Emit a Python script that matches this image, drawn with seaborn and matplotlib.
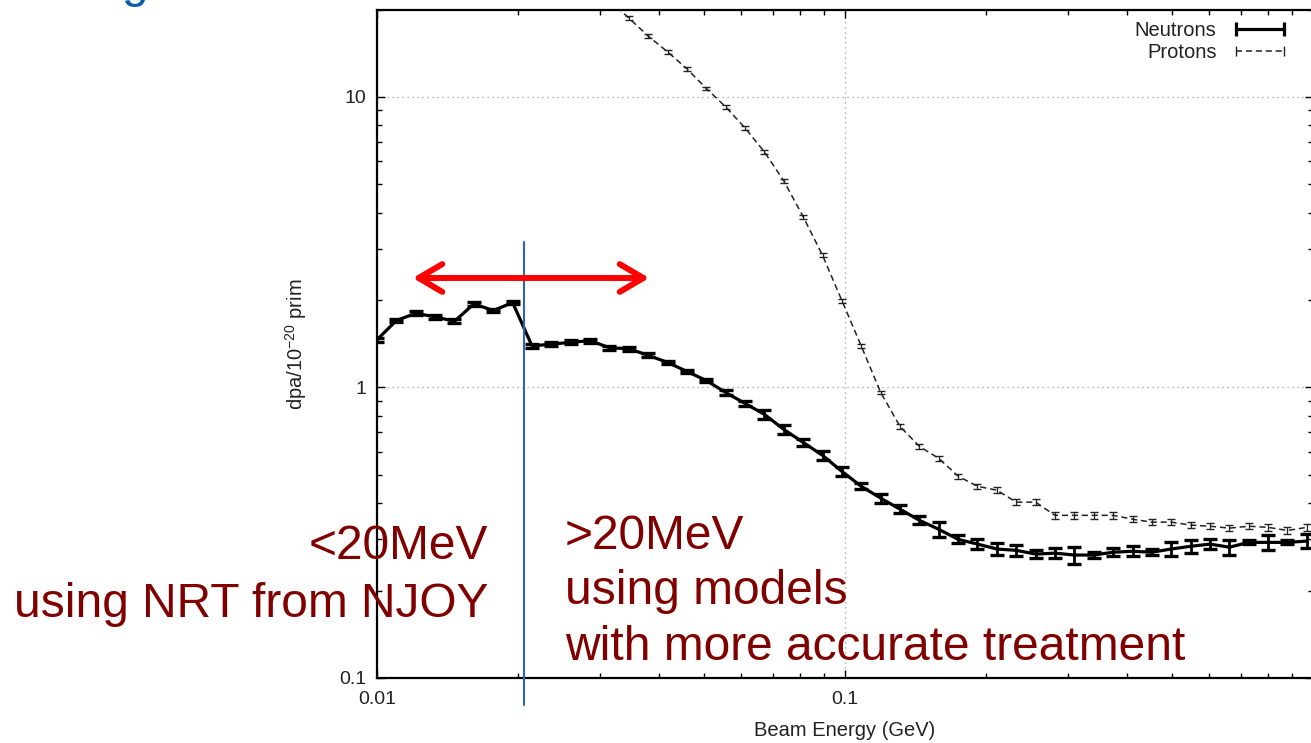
import numpy as np
import pandas as pd
import matplotlib
matplotlib.use("Agg")
import matplotlib.pyplot as plt
import seaborn as sns
from matplotlib.lines import Line2D
from matplotlib.patches import FancyArrowPatch, ArrowStyle
from matplotlib.ticker import FixedLocator, FixedFormatter, LogLocator, NullFormatter

# ---------------- data ----------------
energy_gev = [0.01, 0.011, 0.0121, 0.01331, 0.01464, 0.01611, 0.01772, 0.01949,
              0.02144, 0.02358, 0.02594, 0.02853, 0.03138, 0.03452, 0.03797, 0.04177,
              0.04595, 0.05054, 0.0556, 0.06116, 0.06727, 0.074, 0.0814, 0.08954,
              0.0985, 0.1083, 0.1192, 0.1311, 0.1442, 0.1586, 0.1745, 0.1919,
              0.2111, 0.2323, 0.2555, 0.281, 0.3091, 0.34, 0.374, 0.4115,
              0.4526, 0.4979, 0.5477, 0.6024, 0.6627, 0.729, 0.8019, 0.882, 0.9703]

neutron_dpa = [1.46, 1.70, 1.80, 1.75, 1.69, 1.94, 1.84, 1.96,
               1.39, 1.41, 1.43, 1.45, 1.37, 1.36, 1.29, 1.22,
               1.135, 1.057, 0.961, 0.881, 0.808, 0.717, 0.647, 0.584,
               0.514, 0.457, 0.416, 0.381, 0.349, 0.325, 0.300, 0.289,
               0.278, 0.275, 0.267, 0.269, 0.265, 0.265, 0.271, 0.273,
               0.271, 0.278, 0.284, 0.289, 0.282, 0.293, 0.293, 0.293, 0.296]

neutron_err_pct = [1.5, 1.5, 1.5, 1.5, 1.5, 1.5, 1.5, 1.5,
                   1.5, 1.5, 1.5, 1.5, 1.5, 1.5, 1.5, 1.5,
                   1.5, 1.5, 2.0, 2.0, 3.5, 3.5, 2.5, 3.5,
                   3.5, 2.5, 3.5, 3.0, 3.2, 5.7, 3.2, 4.0,
                   4.9, 4.0, 3.2, 4.0, 6.5, 2.4, 3.2, 4.0,
                   2.4, 5.7, 4.9, 4.0, 5.7, 1.6, 5.7, 1.6, 5.7]

proton_energy_gev = energy_gev[12:]
proton_dpa = [21.5, 18.7, 16.2, 14.3, 12.5, 10.7, 9.24, 7.82,
              6.47, 5.14, 3.87, 2.85, 1.99, 1.39, 0.961, 0.734,
              0.627, 0.570, 0.495, 0.457, 0.443, 0.403, 0.403, 0.363,
              0.363, 0.363, 0.363, 0.352, 0.344, 0.344, 0.336, 0.333,
              0.328, 0.333, 0.330, 0.322, 0.330]
proton_err_pct = [1.5, 1.5, 1.5, 1.5, 1.5, 1.5, 1.5, 1.5,
                  1.5, 1.5, 1.5, 1.5, 1.5, 1.5, 1.5, 2.0,
                  2.0, 2.0, 2.0, 2.0, 2.5, 2.5, 2.5, 2.5,
                  2.5, 2.5, 2.5, 2.5, 2.5, 2.5, 2.5, 2.5,
                  2.5, 2.5, 2.5, 2.5, 2.5]

x_ticks = [0.01, 0.1, 1.0]
x_tick_labels = ["0.01", "0.1", ""]
y_ticks = [0.1, 1, 10]
y_tick_labels = ["0.1", "1", "10"]

series_labels = ["Neutrons", "Protons"]
x_label = "Beam Energy (GeV)"
y_label = r"dpa/10$^{-20}$ prim"

left_notes = ["<20MeV", "using NRT from NJOY"]
right_notes = [">20MeV", "using models", "with more accurate treatment"]

# ---------------- styling ----------------
sns.set_style("ticks")
plt.rcParams["font.family"] = ["Liberation Sans", "DejaVu Sans"]
plt.rcParams["mathtext.fontset"] = "custom"
plt.rcParams["mathtext.rm"] = "Liberation Sans"
plt.rcParams["mathtext.it"] = "Liberation Sans:italic"
plt.rcParams["mathtext.bf"] = "Liberation Sans:bold"

W, H = 1311, 743
fig = plt.figure(figsize=(W / 100, H / 100), dpi=100)
fig.patch.set_facecolor("white")

ax_l, ax_r, ax_t, ax_b = 377, 1313, 9.5, 678
ax = fig.add_axes([ax_l / W, 1 - ax_b / H, (ax_r - ax_l) / W, (ax_b - ax_t) / H])
ax.set_facecolor("white")

df_n = pd.DataFrame({"E": energy_gev, "dpa": neutron_dpa})
df_p = pd.DataFrame({"E": proton_energy_gev, "dpa": proton_dpa})

ax.set_xscale("log")
ax.set_yscale("log")

n_err = np.array(neutron_dpa) * np.array(neutron_err_pct) / 100
p_err = np.array(proton_dpa) * np.array(proton_err_pct) / 100

sns.lineplot(data=df_p, x="E", y="dpa", ax=ax, color="#222222", lw=1.1,
             linestyle=(0, (4, 2.5)), legend=False, zorder=3)
ax.errorbar(proton_energy_gev, proton_dpa, yerr=p_err, fmt="none",
            ecolor="#222222", elinewidth=0.9, capsize=3.2, capthick=1.0, zorder=3)

sns.lineplot(data=df_n, x="E", y="dpa", ax=ax, color="black", lw=2.3,
             legend=False, zorder=4)
ax.errorbar(energy_gev, neutron_dpa, yerr=n_err, fmt="none",
            ecolor="black", elinewidth=2.0, capsize=5, capthick=2.4, zorder=4)

ax.set_xlim(0.01, 1.0)
ax.set_ylim(0.1, 20)

ax.xaxis.set_major_locator(FixedLocator(x_ticks))
ax.xaxis.set_major_formatter(FixedFormatter(x_tick_labels))
ax.xaxis.set_minor_locator(LogLocator(base=10, subs=np.arange(2, 10), numticks=20))
ax.xaxis.set_minor_formatter(NullFormatter())
ax.yaxis.set_major_locator(FixedLocator(y_ticks))
ax.yaxis.set_major_formatter(FixedFormatter(y_tick_labels))
ax.yaxis.set_minor_locator(LogLocator(base=10, subs=np.arange(2, 10), numticks=20))
ax.yaxis.set_minor_formatter(NullFormatter())

ax.tick_params(which="both", direction="in", top=True, right=True,
               color="black", width=1.0, labelsize=14, labelcolor="#222222")
ax.tick_params(which="major", length=6)
ax.tick_params(which="minor", length=3.5)
ax.tick_params(axis="x", which="major", pad=9)
ax.tick_params(axis="y", which="major", pad=8)

for s in ax.spines.values():
    s.set_visible(True)
    s.set_color("black")
    s.set_linewidth(1.6)

ax.grid(which="major", linestyle=(0, (1, 3)), color="#999999", lw=0.9)
ax.grid(which="minor", visible=False)

ax.set_xlabel(x_label, fontsize=14.5, color="#222222")
ax.set_ylabel(y_label, fontsize=14.5, color="#222222")
ax.xaxis.set_label_coords(0.5, (ax_b - 731) / (ax_b - ax_t))
ax.xaxis.label.set_va("center")
ax.yaxis.set_label_coords((296 - ax_l) / (ax_r - ax_l), 0.5)
ax.yaxis.label.set_va("center")

# legend (gnuplot style: text then sample with end caps)
h_n = Line2D([], [], color="black", lw=2.3, marker="|", markersize=10, markeredgewidth=2.3)
h_p = Line2D([], [], color="#222222", lw=1.1, linestyle=(0, (4, 2.5)),
             marker="|", markersize=7, markeredgewidth=1.0)
leg = ax.legend([h_n, h_p], series_labels, loc="upper right",
                bbox_to_anchor=(1290 / W, 1 - 21 / H), bbox_transform=fig.transFigure,
                frameon=False, markerfirst=False, numpoints=2, handlelength=3.0,
                handletextpad=0.65, labelspacing=0.14, borderpad=0, borderaxespad=0,
                fontsize=14.5)
for t in leg.get_texts():
    t.set_color("#222222")

# ---------------- overlay annotations ----------------
dark_red = "#800000"
fs = 34.5
fig.text(488 / W, 1 - 559 / H, left_notes[0], ha="right", va="baseline",
         fontsize=fs, color=dark_red, zorder=10)
fig.text(488 / W, 1 - 617 / H, left_notes[1], ha="right", va="baseline",
         fontsize=fs, color=dark_red, zorder=10)
for txt, yb in zip(right_notes, [549, 604, 660]):
    fig.text(565 / W, 1 - yb / H, txt, ha="left", va="baseline",
             fontsize=fs, color=dark_red, zorder=10)

# cropped title remnant (only the descender of the letter is inside the frame)
fig.text(122 / W, 1 + 3 / H, "g", ha="left", va="baseline", fontsize=fs,
         color="#0a5cae", zorder=10)

# blue divider line
fig.add_artist(Line2D([524 / W, 524 / W], [1 - 242 / H, 1 - 705 / H],
                      transform=fig.transFigure, color="#2a66b0", lw=1.5, zorder=11))

# red double arrow
arr = FancyArrowPatch((410 / W, 1 - 278 / H), (652 / W, 1 - 278 / H),
                      transform=fig.transFigure,
                      arrowstyle=ArrowStyle("<->", head_length=17, head_width=10),
                      mutation_scale=1, lw=4.3, color="#ff0000",
                      capstyle="round", joinstyle="round", zorder=12)
fig.add_artist(arr)

fig.savefig("out.png", dpi=100, facecolor="white")
